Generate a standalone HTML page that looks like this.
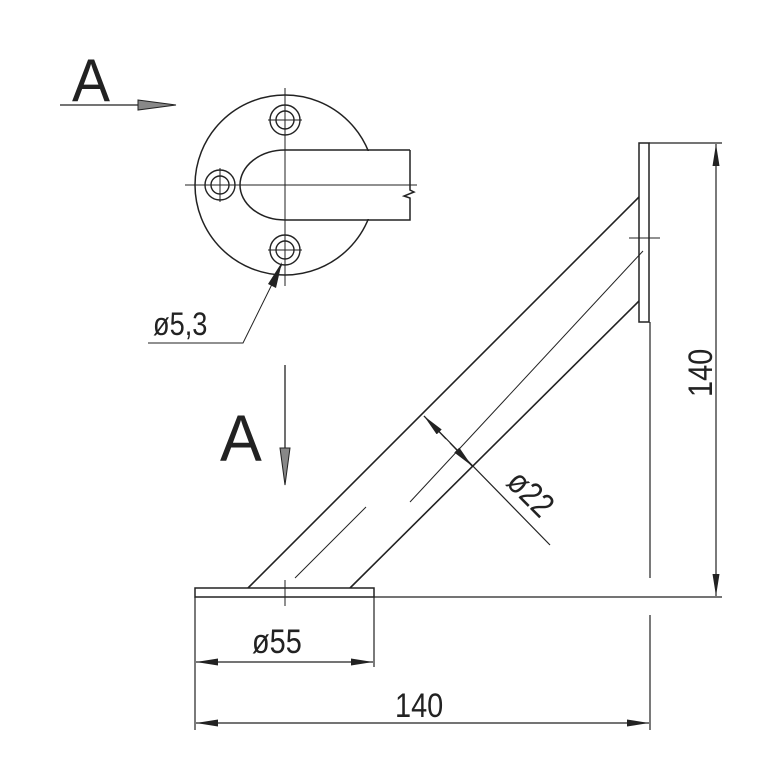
<!DOCTYPE html>
<html><head><style>html,body{margin:0;padding:0;background:#fff}svg{display:block}</style></head>
<body>
<svg width="776" height="768" viewBox="0 0 776 768" xmlns="http://www.w3.org/2000/svg" font-family="Liberation Sans, DejaVu Sans, sans-serif" fill="none" stroke="#222">
<defs>
<marker id="ah" viewBox="0 0 22 8" refX="22" refY="4" markerWidth="22" markerHeight="8" markerUnits="userSpaceOnUse" orient="auto-start-reverse"><path d="M0,0.5 L22,4 L0,7.5 z" fill="#222" stroke="none"/></marker>
</defs>
<text x="0" y="0" font-size="60" fill="#222" stroke="none" transform="translate(72,101) scale(0.95,1)">A</text>
<line x1="60" y1="105" x2="140" y2="105" stroke-width="1.3"/>
<path d="M138,100 L176,105 L138,110 z" fill="#888" stroke="#222" stroke-width="1"/>
<circle cx="285" cy="185" r="90" stroke-width="1.5"/>
<path d="M379,151 L285,151 A45,34 0 0 0 285,219 L379,219 z" fill="#fff" stroke="none"/>
<path d="M410,150 L285,150 A45,35 0 0 0 285,220 L410,220 L410,198 L404,196 L414,192 L410,190 L410,150" stroke-width="1.5"/>
<g stroke-width="1">
<line x1="185" y1="185" x2="417" y2="185"/>
<line x1="285" y1="88" x2="285" y2="286"/>
</g>
<g stroke-width="1.4" fill="#fff">
<circle cx="285" cy="120" r="15"/><circle cx="285" cy="120" r="9"/>
<circle cx="220" cy="185" r="15"/><circle cx="220" cy="185" r="9"/>
<circle cx="285" cy="250" r="15"/><circle cx="285" cy="250" r="9"/>
</g>
<g stroke-width="1">
<line x1="285" y1="103" x2="285" y2="137"/><line x1="268" y1="120" x2="302" y2="120"/>
<line x1="203" y1="185" x2="237" y2="185"/><line x1="220" y1="168" x2="220" y2="202"/>
<line x1="268" y1="250" x2="302" y2="250"/><line x1="285" y1="233" x2="285" y2="286"/>
</g>
<polyline points="148,343 243,343 282,264" stroke-width="1"/>
<path d="M282,262 L268,284 L276,288 z" fill="#222" stroke="none"/>
<text x="0" y="0" font-size="32" fill="#222" stroke="none" transform="translate(153,335) scale(0.85,1)">ø5,3</text>
<text x="0" y="0" font-size="66" fill="#222" stroke="none" transform="translate(220,461) scale(0.95,1)">A</text>
<line x1="285" y1="365" x2="285" y2="450" stroke-width="1.3"/>
<path d="M280,448 L285,485 L290,448 z" fill="#888" stroke="#222" stroke-width="1"/>
<rect x="639" y="143" width="10" height="179" stroke-width="1.5"/>
<line x1="629" y1="238" x2="660" y2="238" stroke-width="1"/>
<line x1="248" y1="588" x2="639" y2="197" stroke-width="1.6"/>
<line x1="350" y1="588" x2="639" y2="301" stroke-width="1.6"/>
<line x1="295" y1="578" x2="366" y2="507" stroke-width="1"/>
<line x1="410" y1="502" x2="643" y2="251" stroke-width="1"/>
<rect x="195" y="588" width="179" height="9" stroke-width="1.5"/>
<line x1="285" y1="580" x2="285" y2="606" stroke-width="1"/>
<line x1="424" y1="416" x2="550" y2="545" stroke-width="1.2"/>
<line x1="424" y1="416" x2="446" y2="439" stroke-width="1.2" marker-start="url(#ah)"/>
<line x1="450" y1="443" x2="472" y2="466" stroke-width="1.2" marker-end="url(#ah)"/>
<text x="0" y="0" font-size="34" fill="#222" stroke="none" transform="translate(505,484) rotate(45) scale(0.85,1)">ø22</text>
<line x1="649" y1="143" x2="722" y2="143" stroke-width="1.3"/>
<line x1="374" y1="597" x2="722" y2="597" stroke-width="1.3"/>
<line x1="650" y1="322" x2="650" y2="578" stroke-width="1.2"/>
<line x1="716" y1="144" x2="716" y2="596" stroke-width="1.2" marker-start="url(#ah)" marker-end="url(#ah)"/>
<text x="0" y="0" font-size="34" fill="#222" stroke="none" transform="translate(712,397) rotate(-90) scale(0.85,1)">140</text>
<line x1="195" y1="597" x2="195" y2="730" stroke-width="1.2"/>
<line x1="374" y1="597" x2="374" y2="667" stroke-width="1.2"/>
<line x1="650" y1="615" x2="650" y2="730" stroke-width="1.2"/>
<line x1="196" y1="662" x2="373" y2="662" stroke-width="1.2" marker-start="url(#ah)" marker-end="url(#ah)"/>
<text x="0" y="0" font-size="34" fill="#222" stroke="none" transform="translate(252,653) scale(0.85,1)">ø55</text>
<line x1="196" y1="723" x2="649" y2="723" stroke-width="1.2" marker-start="url(#ah)" marker-end="url(#ah)"/>
<text x="0" y="0" font-size="34" fill="#222" stroke="none" transform="translate(395,717) scale(0.85,1)">140</text>
</svg>
</body></html>
